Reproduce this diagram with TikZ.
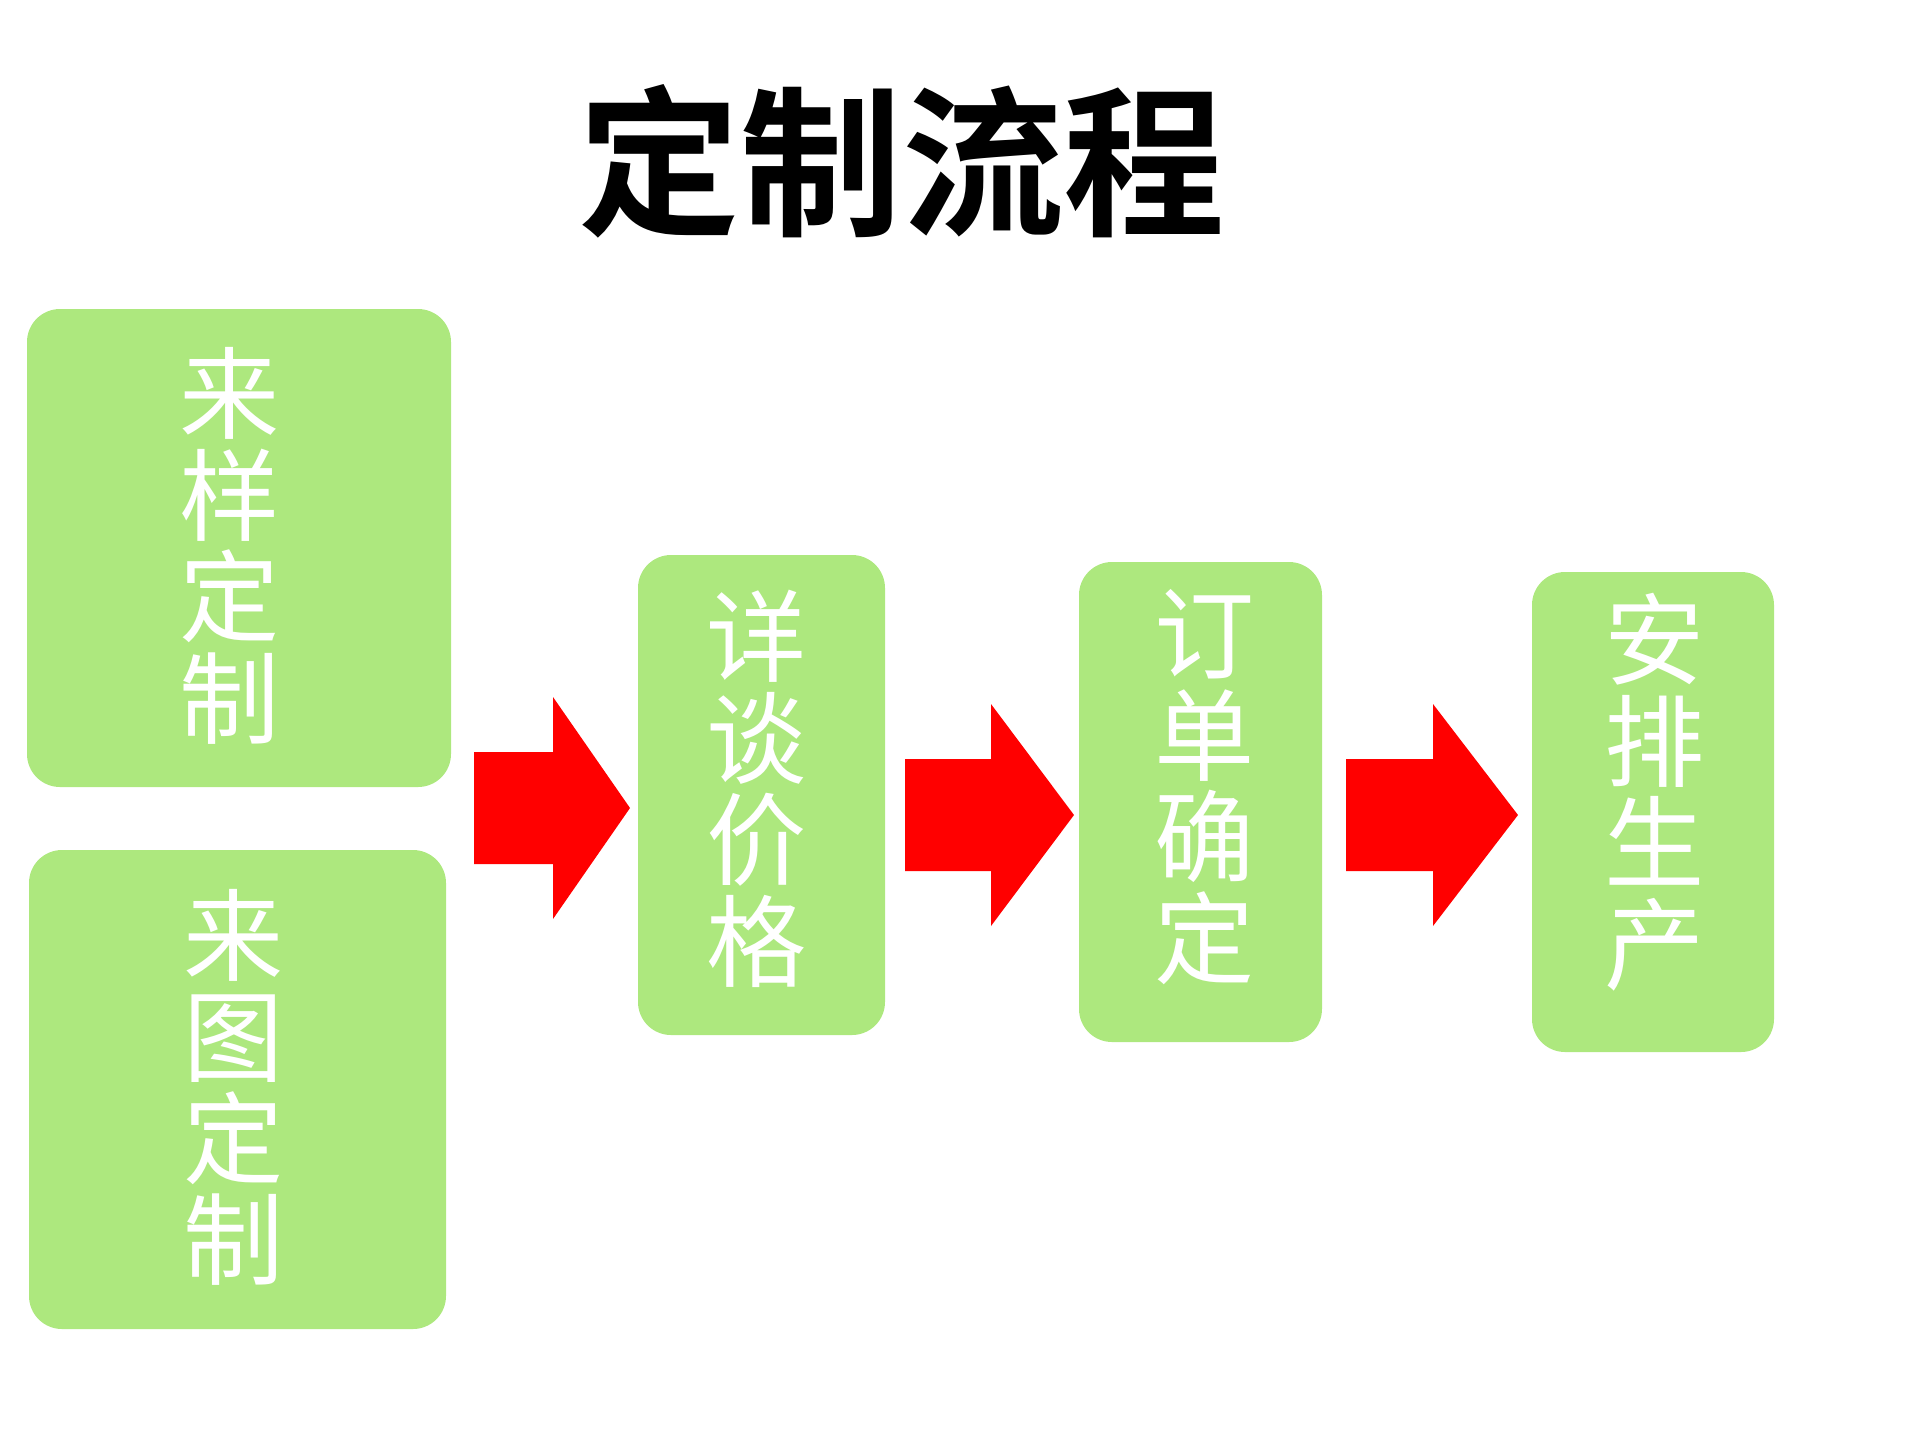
\documentclass[tikz,border=0pt]{standalone}
\usepackage{fontspec}
\newfontfamily\cjk[BoldFont={* Bold}]{Noto Sans CJK SC}
\usepackage{xcolor}
\usepackage{tikz}
\usetikzlibrary{positioning, calc}

\definecolor{boxgreen}{HTML}{ADE87E}
\definecolor{arrred}{HTML}{FF0000}

\begin{document}
\begin{tikzpicture}[
  x=0.1mm, y=-0.1mm,
  every node/.style={font=\cjk},
  stage/.style={rectangle, rounded corners=3.3mm, fill=boxgreen, draw=none,
                inner sep=0pt, outer sep=0pt},
  vtxt/.style={text=white, align=center, inner sep=0pt,
               font=\cjk\fontsize{28.5}{28.9}\selectfont},
  blk arr/.style={fill=arrred, draw=none}
]
\useasboundingbox (0,0) rectangle (1920,1441);

%% title
\node[font=\cjk\bfseries\fontsize{46}{48}\selectfont] (title) at (902,161) {定制流程};

%% stages
\node[stage, minimum width=42.4mm, minimum height=47.8mm] (sample) at (239,548) {};
\node[stage, minimum width=41.7mm, minimum height=47.9mm] (drawing) at (237.5,1089.5) {};
\node[stage, minimum width=24.7mm, minimum height=48mm] (price) at (761.5,795) {};
\node[stage, minimum width=24.3mm, minimum height=48mm] (order) at (1200.5,802) {};
\node[stage, minimum width=24.2mm, minimum height=48mm] (produce) at (1653,812) {};

%% vertical labels
\node[vtxt] (sample txt)  at ($(sample)+(-9,-2)$)   {来\\样\\定\\制};
\node[vtxt] (drawing txt) at ($(drawing)+(-4,-2)$)  {来\\图\\定\\制};
\node[vtxt] (price txt)   at ($(price)+(-5,-6)$)    {详\\谈\\价\\格};
\node[vtxt] (order txt)   at ($(order)+(4,-15)$)    {订\\单\\确\\定};
\node[vtxt] (produce txt) at ($(produce)+(2,-20)$)  {安\\排\\生\\产};

%% block arrows (shaft start / head base / tip / middle)
\foreach \xa/\xb/\xc/\ym in {474/553/630/808, 905/991/1074/815, 1346/1433/1518/815}
  \fill[blk arr] (\xa,\ym-56) -- (\xb,\ym-56) -- (\xb,\ym-111) -- (\xc,\ym)
    -- (\xb,\ym+111) -- (\xb,\ym+56) -- (\xa,\ym+56) -- cycle;
\end{tikzpicture}
\end{document}
